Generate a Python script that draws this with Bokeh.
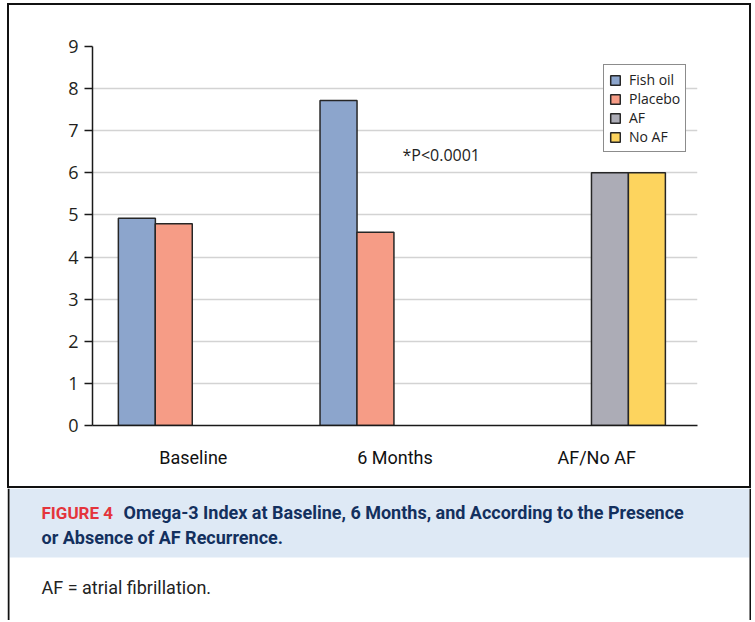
from bokeh.plotting import figure
from bokeh.models import (ColumnDataSource, Label, Range1d, FactorRange, Legend, LegendItem,
                          FixedTicker, Div, Spacer)
from bokeh.layouts import row, column
from bokeh.transform import dodge
from bokeh.core.properties import value
from bokeh.embed import file_html
from bokeh.resources import INLINE

# ---- data ----
categories = ["Baseline", "6 Months", "AF/No AF"]
fish_oil_cats = ["Baseline", "6 Months"]
fish_oil = [4.92, 7.72]
placebo_cats = ["Baseline", "6 Months"]
placebo = [4.79, 4.59]
af_cats = ["AF/No AF"]
af = [6.0]
no_af_cats = ["AF/No AF"]
no_af = [6.0]
y_ticks = [0, 1, 2, 3, 4, 5, 6, 7, 8, 9]
annotation_text = "*P<0.0001"
fig_label = "FIGURE 4"
caption_line1 = "Omega-3 Index at Baseline, 6 Months, and According to the Presence"
caption_line2 = "or Absence of AF Recurrence."
footnote = "AF = atrial fibrillation."

# ---- chart ----
CW, CH = 740, 481
FL, FT, FW, FH = 83, 41, 605, 379

p = figure(width=CW, height=CH, x_range=FactorRange(*categories, range_padding=0),
           y_range=Range1d(0, 9), output_backend="svg", toolbar_location=None,
           min_border_left=FL, min_border_top=FT, min_border_right=CW - FL - FW,
           min_border_bottom=CH - FT - FH)
p.outline_line_color = None
p.background_fill_color = "white"
p.border_fill_color = "white"

BW = 0.1835
series = [
    (fish_oil_cats, fish_oil, -0.280, "#8ca5cc", "Fish oil"),
    (placebo_cats, placebo, -0.097, "#f69c86", "Placebo"),
    (af_cats, af, 0.066, "#acacb6", "AF"),
    (no_af_cats, no_af, 0.249, "#fdd45e", "No AF"),
]
items = []
for cats, vals, off, col, name in series:
    src = ColumnDataSource(dict(cat=cats, val=vals))
    r = p.vbar(x=dodge("cat", off, range=p.x_range), top="val", width=BW, bottom=0,
               source=src, fill_color=col, line_color="#262626", line_width=1.5)
    items.append(LegendItem(label=name, renderers=[r]))

legend = Legend(items=items, location=(511, 273), border_line_color="#1a1a1a",
                border_line_width=1.2, background_fill_color="white", background_fill_alpha=1,
                label_text_font="Open Sans", label_text_font_size="14px",
                label_text_color="#222222", glyph_width=12, glyph_height=12,
                label_height=15, label_standoff=8, spacing=-3, padding=5, margin=0)
p.add_layout(legend, "center")

p.yaxis.ticker = FixedTicker(ticks=y_ticks)
p.yaxis.major_tick_out = 8
p.yaxis.major_tick_in = 0
p.yaxis.minor_tick_line_color = None
p.yaxis.axis_line_color = "#1a1a1a"
p.yaxis.axis_line_width = 1.5
p.yaxis.major_tick_line_color = "#1a1a1a"
p.yaxis.major_tick_line_width = 1.5
p.yaxis.major_label_text_font = "Open Sans"
p.yaxis.major_label_text_font_size = "18px"
p.yaxis.major_label_text_color = "#231f20"
p.yaxis.major_label_standoff = 6

p.xaxis.major_tick_line_color = None
p.xaxis.minor_tick_line_color = None
p.xaxis.axis_line_color = "#1a1a1a"
p.xaxis.axis_line_width = 1.5
p.xaxis.major_label_text_font = "Roboto"
p.xaxis.major_label_text_font_size = "18px"
p.xaxis.major_label_text_color = "#111111"
p.xaxis.major_label_standoff = 15

p.xgrid.grid_line_color = None
p.ygrid.grid_line_color = "#d3d3d3"
p.ygrid.grid_line_width = 1.5
p.ygrid.level = "underlay"

p.add_layout(Label(x=1.537, y=6.435, text=annotation_text, text_font="Open Sans",
                   text_font_size="16px", text_color="#222222", text_baseline="middle"))

# ---- caption panel ----
KW, KH = 744, 132
cap = figure(width=KW, height=KH, x_range=Range1d(0, KW), y_range=Range1d(KH, 0),
             output_backend="svg", toolbar_location=None, min_border=0,
             x_axis_type=None, y_axis_type=None)
cap.outline_line_color = None
cap.grid.visible = False
cap.background_fill_color = "white"
cap.border_fill_color = "white"
cap.quad(left=[2], right=[742], top=[0], bottom=[69], fill_color="#dee9f5", line_color=None)
cap.quad(left=[0, 742], right=[2, 744], top=[0, 0], bottom=[KH, KH],
         fill_color="#111111", line_color=None)
cf = value("Roboto")
cap.text(x=[34], y=[24], text=[fig_label], text_font=cf, text_font_style="bold",
         text_font_size="17px", text_color="#e4343c", text_baseline="middle")
cap.text(x=[116, 34], y=[24, 49], text=[caption_line1, caption_line2], text_font=cf,
         text_font_style="bold", text_font_size="18px", text_color="#13305e",
         text_baseline="middle")
cap.text(x=[34], y=[99], text=[footnote], text_font=cf, text_font_size="18px",
         text_color="#222222", text_baseline="middle")

def bar_div(w, h):
    return Div(width=w, height=h, margin=0, styles={"background-color": "#111111"})

inner = column(
    Spacer(width=KW, height=3, margin=0),
    bar_div(KW, 2),
    row(bar_div(2, CH), p, bar_div(2, CH), spacing=0),
    bar_div(KW, 2),
    cap,
    spacing=0,
)
layout = row(Spacer(width=7, height=10, margin=0), inner, spacing=0)

open("out.html", "w").write(file_html(layout, INLINE))
